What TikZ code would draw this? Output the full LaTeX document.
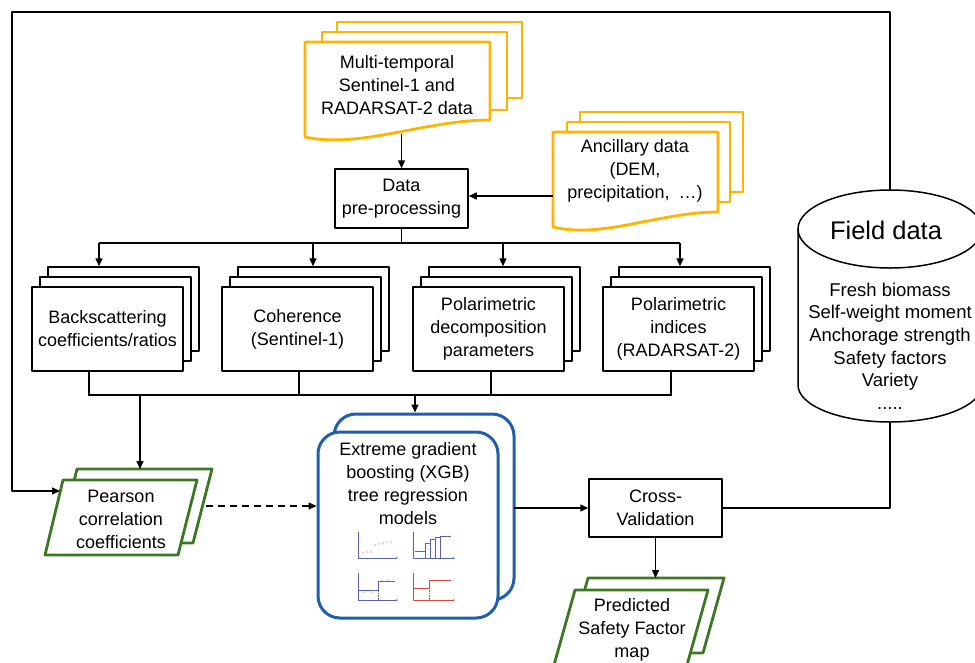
\documentclass[tikz,border=0pt]{standalone}
\usepackage{fontspec}
\setmainfont{Liberation Sans}
\usetikzlibrary{arrows.meta}
\definecolor{docorange}{RGB}{255,180,0}
\definecolor{pgreen}{RGB}{60,120,35}
\definecolor{xblue}{RGB}{30,95,175}
\definecolor{axc}{RGB}{90,100,170}
\definecolor{redc}{RGB}{210,70,60}
\begin{document}
\begin{tikzpicture}[x=1pt,y=-1pt,line join=round,
  txt/.style={font=\fontsize{18}{23}\selectfont,align=center,inner sep=0pt},
  blk/.style={draw=black,line width=1.5pt,fill=white},
  orng/.style={draw=docorange,line width=2.8pt,fill=white},
  grn/.style={draw=pgreen,line width=2.8pt,fill=white},
  blu/.style={draw=xblue,line width=3pt,fill=white,rounded corners=22pt},
  conn/.style={line width=1.5pt},
  arr/.style={conn,-{Triangle[length=8pt,width=7pt]}},
  rowbox/.style={blk,minimum width=151pt,minimum height=84pt},
  chart/.style={line width=0.6pt},
]
\useasboundingbox (0,0) rectangle (975,662);

% ---- Multi-temporal documents
\path[orng] (337,22) rectangle (522,98);
\path[orng] (322,32) rectangle (507,110);
\path[orng] (305,137) .. controls (360.5,149) and (425,120) .. (490,120) -- (490,42) -- (305,42) -- cycle;
\node[txt] (multi) at (397,85) {Multi-temporal\\Sentinel-1 and\\RADARSAT-2 data};
\coordinate (multibot) at (401.5,134);

% ---- Ancillary documents
\path[orng] (580,112) rectangle (743,192);
\path[orng] (567,122) rectangle (730,202);
\path[orng] (553,227) .. controls (602.5,239) and (660,212) .. (718,212) -- (718,132) -- (553,132) -- cycle;
\node[txt] (anc) at (635,171) {Ancillary data\\(DEM,\\precipitation,\enspace\dots)};
\coordinate (ancl) at (553,196);

% ---- Data pre-processing
\node[blk,txt,minimum width=133pt,minimum height=59pt] (prep) at (401.5,198.5) {Data\\pre-processing};
\draw[arr] (multibot) -- (prep.north);
\draw[arr] (ancl) -- (ancl -| prep.east);

% ---- Row of stacked boxes
\foreach \nm/\cx in {bs/107.5,coh/297.5,dec/488.5,ind/678.5}{
  \node[rowbox] (\nm3) at (\cx+16,309) {};
  \node[rowbox] (\nm2) at (\cx+8,319) {};
  \node[rowbox] (\nm) at (\cx,329) {};
}
\node[txt] (bst) at (bs) {Backscattering\\coefficients/ratios};
\node[txt] (coht) at (coh) {Coherence\\(Sentinel-1)};
\node[txt] (dect) at (dec) {Polarimetric\\decomposition\\parameters};
\node[txt] (indt) at (ind) {Polarimetric\\indices\\(RADARSAT-2)};

% upper bus
\coordinate (busA) at (401.5,243);
\draw[conn] (prep.south) -- (busA);
\draw[conn] (99,243) -- (680,243);
\coordinate (b1) at (99,243);
\coordinate (b2) at (313,243);
\coordinate (b3) at (503,243);
\coordinate (b4) at (680,243);
\draw[arr] (b1) -- (b1 |- bs3.north);
\draw[arr] (b2) -- (b2 |- coh3.north);
\draw[arr] (b3) -- (b3 |- dec3.north);
\draw[arr] (b4) -- (b4 |- ind3.north);

% lower bus
\draw[conn] ([xshift=-18.5pt]bs.south) -- ++(0,24);
\draw[conn] ([xshift=1.5pt]coh.south) -- ++(0,24);
\draw[conn] ([xshift=2.5pt]dec.south) -- ++(0,24);
\draw[conn] ([xshift=-7.5pt]ind.south) -- ++(0,24);
\draw[conn] (89,395) -- (671,395);

% ---- Pearson
\path[grn] (77,469) -- (212,469) -- (193,543) -- (59,543) -- cycle;
\path[grn] (63,480) -- (197,480) -- (178,555) -- (45,555) -- cycle;
\node[txt] (pear) at (121,519) {Pearson\\correlation\\coefficients};
\coordinate (pearTop) at (140,469);
\coordinate (pearLeft) at (60,491);
\coordinate (pearRight) at (206,506);
\coordinate (bl1) at (140,395);
\draw[arr] (bl1) -- (pearTop);

% ---- XGB
\node[blu,minimum width=180pt,minimum height=186pt] (xgbb) at (424,507) {};
\node[blu,minimum width=180pt,minimum height=186pt] (xgb) at (408,525) {};
\node[txt] (xgbt) at (408,484) {Extreme gradient\\boosting (XGB)\\tree regression\\models};
\coordinate (bl2) at (415,395);
\draw[arr] (bl2) -- (bl2 |- xgbb.north);
\draw[arr,dash pattern=on 7pt off 5pt] (pearRight) -- (pearRight -| xgb.west);

% mini charts
\begin{scope}[shift={(358,558)}]
  \draw[chart,draw=axc,-{Stealth[length=2pt]}] (0,-26) -- (0,0) -- (40,0);
  \foreach \px/\py in {5/-5,9/-6,13/-6,17/-13,21/-14,25/-15,29/-16,33/-16}
    \fill[axc] (\px,\py) circle[radius=0.7pt];
\end{scope}
\begin{scope}[shift={(413,558)}]
  \draw[chart,draw=axc,-{Stealth[length=2pt]}] (0,-26) -- (0,0) -- (42,0);
  \draw[chart,draw=axc] (2,-7) -- (12,-7) -- (12,-15) -- (17,-15) -- (17,-19) -- (22,-19) -- (22,-21) -- (27,-21) -- (27,-22) -- (38,-22);
  \foreach \vx/\vy in {12/-15,17/-19,22/-21,27/-22}
    \draw[chart,draw=axc] (\vx,0) -- (\vx,\vy);
\end{scope}
\begin{scope}[shift={(358,600)}]
  \draw[chart,draw=axc,-{Stealth[length=2pt]}] (0,-27) -- (0,0) -- (40,0);
  \draw[chart,draw=axc] (1,-10) -- (20,-10) -- (20,-19) -- (37,-19);
  \draw[chart,draw=axc,densely dotted] (20,0) -- (20,-10);
  \foreach \px/\py in {6/-8,10/-9,14/-8,24/-19,30/-20}
    \fill[axc] (\px,\py) circle[radius=0.7pt];
\end{scope}
\begin{scope}[shift={(413,600)}]
  \draw[chart,draw=redc,-{Stealth[length=2pt]}] (0,-27) -- (0,0) -- (42,0);
  \draw[chart,draw=redc] (1,-12) -- (16,-12) -- (16,-20) -- (38,-20);
  \draw[chart,draw=redc,densely dotted] (16,0) -- (16,-12);
\end{scope}

% ---- Cross-validation
\node[blk,txt,minimum width=133pt,minimum height=58pt] (cv) at (655.5,508) {Cross-\\Validation};
\coordinate (xr) at (514,508);
\draw[arr] (xr) -- (xr -| cv.west);

% ---- Predicted
\path[grn] (588,578) -- (724,578) -- (703,653) -- (567,653) -- cycle;
\path[grn] (575,590) -- (708,590) -- (687,665) -- (554,665) -- cycle;
\node[txt] (pred) at (632,630) {Predicted\\Safety Factor\\map};
\coordinate (predTop) at (655.5,578);
\draw[arr] (cv.south) -- (predTop);

% ---- Field data cylinder
\draw[conn,fill=white] (798,229) -- (798,385) arc[start angle=180,end angle=360,x radius=92pt,y radius=37pt] -- (982,229);
\draw[conn] (890,229) ellipse[x radius=92pt,y radius=39pt];
\node[font=\fontsize{25.5}{30}\selectfont,inner sep=0pt] (field) at (886,230) {Field data};
\node[txt,font=\fontsize{18.5}{22.6}\selectfont] (flist) at (890,346) {Fresh biomass\\Self-weight moment\\Anchorage strength\\Safety factors\\Variety\\.....};
\coordinate (cylTop) at (890,190);
\coordinate (cylBot) at (890,422);

% ---- feedback connectors
\draw[conn] (cv.east) -- (890,508) -- (cylBot);
\draw[arr] (cylTop) -- (890,12) -- (12,12) -- (12,491) -- (pearLeft);
\end{tikzpicture}
\end{document}
